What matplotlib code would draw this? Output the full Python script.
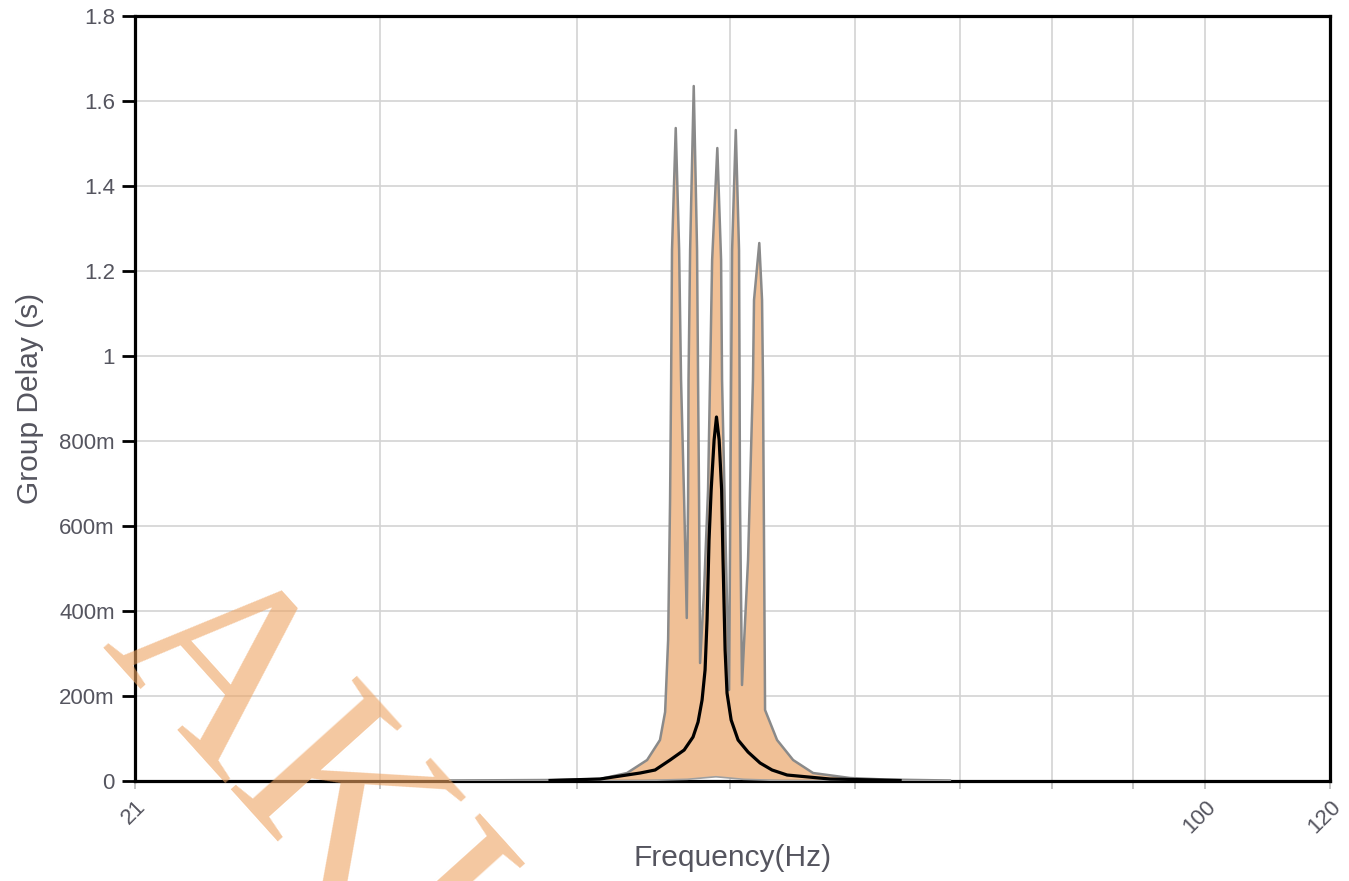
import matplotlib
matplotlib.use("Agg")
import matplotlib.pyplot as plt
import numpy as np

# upper envelope of the measured group delay (grey outline of the orange band)
upper_freq = [33.25, 38.47, 41.38, 43.04, 44.32, 45.16, 45.50, 45.70, 45.83, 45.90, 45.96,
              46.21, 46.44, 46.57, 46.78, 46.96, 47.05, 47.08, 47.19, 47.44, 47.67, 47.74,
              47.81, 47.88, 48.16, 48.44, 48.58, 48.73, 49.10, 49.37, 49.44, 49.66, 49.95,
              50.10, 50.17, 50.44, 50.68, 50.72, 50.75, 50.90, 51.35, 51.72, 51.80, 52.20,
              52.41, 52.48, 52.57, 52.64, 53.57, 54.84, 56.46, 59.59, 62.71, 68.93]
upper_val = [0.0012, 0.0024, 0.0047, 0.0188, 0.0494, 0.0965, 0.1624, 0.3318, 0.6612, 0.9435, 1.2494,
             1.5365, 1.2494, 0.9435, 0.6612, 0.3835, 0.6612, 0.9435, 1.2494, 1.6353, 1.2494, 0.9435,
             0.6612, 0.2776, 0.4494, 0.6847, 0.9435, 1.2259, 1.4894, 1.2259, 0.9435, 0.6141, 0.2141,
             0.9435, 1.2494, 1.5318, 1.2494, 0.9435, 0.6612, 0.2259, 0.5200, 0.9435, 1.1318, 1.2659,
             1.1318, 0.9435, 0.5200, 0.1671, 0.0965, 0.0494, 0.0188, 0.0071, 0.0035, 0.0012]

# lower envelope
lower_freq = [33.25, 44.0, 47.0, 49.0, 51.0, 54.0, 68.93]
lower_val = [0.0, 0.001, 0.004, 0.010, 0.004, 0.001, 0.0]

# average response (black)
mean_freq = [38.47, 41.38, 43.87, 44.84, 45.83, 46.78, 47.39, 47.74, 48.02, 48.23, 48.37, 48.51,
             48.66, 48.87, 49.04, 49.23, 49.41, 49.51, 49.66, 49.80, 50.10, 50.61, 51.35, 52.26,
             53.18, 54.36, 57.87, 64.10]
mean_val = [0.0012, 0.0047, 0.0188, 0.0259, 0.0494, 0.0729, 0.1035, 0.1388, 0.1906, 0.2612, 0.3788, 0.5671,
            0.6847, 0.8024, 0.8565, 0.8024, 0.6847, 0.5200, 0.3082, 0.2071, 0.1435, 0.0965, 0.0682, 0.0424,
            0.0259, 0.0141, 0.0047, 0.0012]

x_ticks = [21, 30, 40, 50, 60, 70, 80, 90, 100, 120]
x_labels = ["21", "", "", "", "", "", "", "", "100", "120"]
y_ticks = [0, 0.2, 0.4, 0.6, 0.8, 1.0, 1.2, 1.4, 1.6, 1.8]
y_labels = ["0", "200m", "400m", "600m", "800m", "1", "1.2", "1.4", "1.6", "1.8"]

plt.rcParams["font.family"] = ["Liberation Sans", "DejaVu Sans"]

fig = plt.figure(figsize=(13.49, 8.81), dpi=100)
ax = fig.add_axes([0.1001, 0.1135, 0.8858, 0.8683])

ax.set_xscale("log")
ax.set_xlim(21, 120)
ax.set_ylim(0, 1.8)

ax.fill(np.r_[upper_freq, lower_freq[::-1]], np.r_[upper_val, lower_val[::-1]],
        color="#f0c096", lw=0, zorder=2)
ax.plot(upper_freq, upper_val, color="#8a8a8a", lw=1.8, zorder=3)
ax.plot(lower_freq, lower_val, color="#a0a0a0", lw=1.2, zorder=3)
ax.plot(mean_freq, mean_val, color="black", lw=2.3, zorder=4)

ax.set_xticks(x_ticks)
ax.set_xticklabels(x_labels, rotation=45, ha="right", rotation_mode="anchor")
ax.xaxis.set_minor_locator(matplotlib.ticker.NullLocator())
ax.set_yticks(y_ticks)
ax.set_yticklabels(y_labels)
ax.tick_params(axis="both", labelsize=16, colors="#55555f")
ax.tick_params(axis="y", color="black", width=2, length=9.5, pad=5)
ax.tick_params(axis="x", color="#bbbbbb", width=1.2, length=6, pad=5)

ax.grid(True, color="#d3d3d3", lw=1.2)
ax.set_axisbelow(True)
for s in ax.spines.values():
    s.set_linewidth(2.3)
    s.set_color("black")

ax.set_xlabel("Frequency(Hz)", fontsize=21.5, color="#55555f", labelpad=5)
ax.set_ylabel("Group Delay (s)", fontsize=21.5, color="#55555f", labelpad=11)

# watermark
fig.text(100 / 1349, 1 - 647 / 881, "AKUSTIK", fontsize=186, family="Liberation Serif",
         color="#eea361", alpha=0.6, rotation=-48, rotation_mode="anchor",
         ha="left", va="baseline", zorder=10)

fig.savefig("out.png", dpi=100)
